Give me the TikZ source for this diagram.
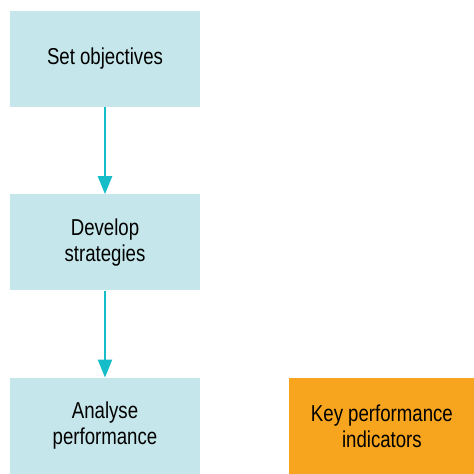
\documentclass[tikz,border=0pt]{standalone}
\usepackage{fontspec}
\setmainfont{Liberation Sans}[FakeStretch=0.81]
\usepackage{tikz}
\usetikzlibrary{arrows.meta,positioning}

\definecolor{boxblue}{HTML}{C5E6EA}
\definecolor{arrowcyan}{HTML}{17BCC9}
\definecolor{kpiorange}{HTML}{F7A51E}

\begin{document}
\begin{tikzpicture}[x=1pt,y=1pt,
    node distance=87pt,
    stage/.style={fill=boxblue, minimum width=190pt, minimum height=96pt,
        align=center, inner sep=0pt, font=\fontsize{23}{26}\selectfont},
    kpi/.style={stage, fill=kpiorange, minimum width=185pt},
    flow/.style={draw=arrowcyan, line width=2.2pt,
        -{Triangle[width=14pt,length=18pt]}}]
    \useasboundingbox (0,0) rectangle (474,474);
    \node[stage] (set) at (105,415) {Set objectives};
    \node[stage, below=of set] (develop) {Develop\\strategies};
    \node[stage, below=of develop] (analyse) {Analyse\\performance};
    \node[kpi, right=89pt of analyse.east, anchor=west] (kpi) {Key performance\\indicators};

    \draw[flow] (set) -- (develop);
    \draw[flow] (develop) -- (analyse);
\end{tikzpicture}
\end{document}
